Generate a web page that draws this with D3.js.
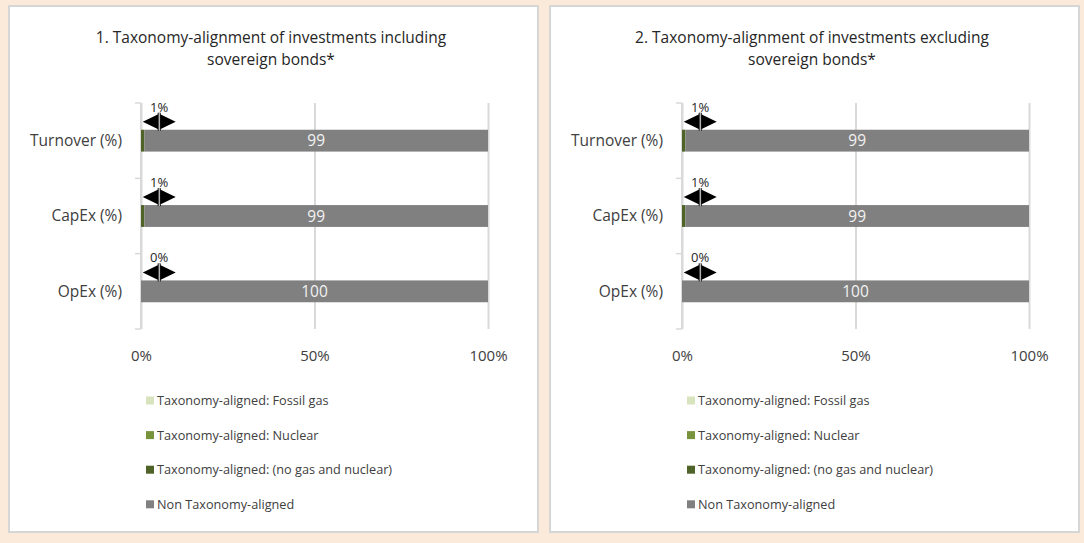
<!DOCTYPE html>
<html>
<head>
<meta charset="utf-8">
<script src="https://cdn.jsdelivr.net/npm/d3@7"></script>
<style>
  html, body { margin: 0; padding: 0; background: #fbe9da; }
  svg { display: block; font-family: "Open Sans", sans-serif; }
</style>
</head>
<body>
<div id="chart"></div>
<script>
// chart data
var categories = ["Turnover (%)", "CapEx (%)", "OpEx (%)"];
var seriesNames = ["Taxonomy-aligned: Fossil gas", "Taxonomy-aligned: Nuclear",
    "Taxonomy-aligned: (no gas and nuclear)", "Non Taxonomy-aligned"];
var seriesColors = ["#d7e4bd", "#77933c", "#4f6228", "#808080"];
var xTicks = [0, 50, 100];

var titles1 = ["1. Taxonomy-alignment of investments including", "sovereign bonds*"];
var incFossilGas = [0, 0, 0];
var incNuclear = [0, 0, 0];
var incAligned = [1, 1, 0];
var incNonAligned = [99, 99, 100];
var incArrowLabels = ["1%", "1%", "0%"];

var titles2 = ["2. Taxonomy-alignment of investments excluding", "sovereign bonds*"];
var excFossilGas = [0, 0, 0];
var excNuclear = [0, 0, 0];
var excAligned = [1, 1, 0];
var excNonAligned = [99, 99, 100];
var excArrowLabels = ["1%", "1%", "0%"];

var width = 1084, height = 543;

var svg = d3.select("#chart").append("svg")
    .attr("width", width)
    .attr("height", height);

svg.append("rect")
    .attr("width", width).attr("height", height)
    .attr("fill", "#fbe9da");

var keys = ["gas", "nuclear", "aligned", "non"];

var xScale = d3.scaleLinear().domain([0, 100]).range([141, 488]);
var yScale = d3.scaleBand().domain(categories).range([103, 329])
    .paddingInner(0.71).paddingOuter(0.355);

function drawPanel(offsetX, titleLines, gas, nuclear, aligned, non, arrowLabels) {
    var g = svg.append("g").attr("transform", "translate(" + offsetX + ",0)");

    // panel box
    g.append("rect")
        .attr("x", 9).attr("y", 6)
        .attr("width", 529).attr("height", 526)
        .attr("fill", "#fff")
        .attr("stroke", "#d6d6d6")
        .attr("stroke-width", 2);

    // title
    g.append("text")
        .attr("x", 271).attr("y", 43)
        .attr("text-anchor", "middle")
        .attr("font-size", 15.5)
        .attr("fill", "#262626")
        .selectAll("tspan")
        .data(titleLines)
        .enter().append("tspan")
        .attr("x", 271)
        .attr("dy", function(d, i) { return i === 0 ? 0 : 22; })
        .text(function(d) { return d; });

    // gridlines + x labels
    var xAxis = d3.axisBottom(xScale)
        .tickValues(xTicks)
        .tickSize(-(329 - 103))
        .tickFormat(function(d) { return d + "%"; });

    var ax = g.append("g")
        .attr("transform", "translate(0,329)")
        .call(xAxis);
    ax.select(".domain").remove();
    ax.selectAll("line")
        .attr("stroke", "#d9d9d9")
        .attr("stroke-width", 2);
    ax.selectAll("text")
        .attr("y", 21)
        .attr("font-size", 15)
        .attr("font-family", "'Open Sans', sans-serif")
        .attr("fill", "#404040");

    // y axis line and ticks at band edges
    var edges = [103].concat(categories.map(function(c, i) {
        return 103 + (i + 1) * yScale.step();
    }));
    g.append("line")
        .attr("x1", xScale(0)).attr("x2", xScale(0))
        .attr("y1", 103).attr("y2", 329)
        .attr("stroke", "#d9d9d9").attr("stroke-width", 2);
    g.selectAll(".ytick")
        .data(edges)
        .enter().append("line")
        .attr("class", "ytick")
        .attr("x1", xScale(0) - 6).attr("x2", xScale(0))
        .attr("y1", function(d) { return d; })
        .attr("y2", function(d) { return d; })
        .attr("stroke", "#d9d9d9").attr("stroke-width", 1.5);

    g.selectAll(".ylabel")
        .data(categories)
        .enter().append("text")
        .attr("class", "ylabel")
        .attr("x", 122)
        .attr("y", function(d) { return yScale(d) + yScale.bandwidth() / 2; })
        .attr("dy", "0.35em")
        .attr("text-anchor", "end")
        .attr("font-size", 15.5)
        .attr("fill", "#404040")
        .text(function(d) { return d; });

    // stacked bars
    var rows = categories.map(function(c, i) {
        return { cat: c, gas: gas[i], nuclear: nuclear[i], aligned: aligned[i], non: non[i] };
    });
    var stacked = d3.stack().keys(keys)(rows);

    var layers = g.selectAll(".layer")
        .data(stacked)
        .enter().append("g")
        .attr("class", "layer")
        .attr("fill", function(d, i) { return seriesColors[i]; });

    layers.selectAll("rect")
        .data(function(d) { return d; })
        .enter().append("rect")
        .attr("x", function(d) { return xScale(d[0]); })
        .attr("y", function(d) { return yScale(d.data.cat); })
        .attr("width", function(d) { return xScale(d[1]) - xScale(d[0]); })
        .attr("height", yScale.bandwidth());

    // value labels on the non-aligned part
    var nonLayer = stacked[3];
    g.selectAll(".vlabel")
        .data(nonLayer)
        .enter().append("text")
        .attr("class", "vlabel")
        .attr("x", function(d) { return (xScale(d[0]) + xScale(d[1])) / 2; })
        .attr("y", function(d) { return yScale(d.data.cat) + yScale.bandwidth() / 2; })
        .attr("dy", "0.36em")
        .attr("text-anchor", "middle")
        .attr("font-size", 15.5)
        .attr("fill", "#f2f2f2")
        .text(function(d) { return d[1] - d[0]; });

    // double arrows with aligned share
    var arrows = g.selectAll(".arrow")
        .data(categories)
        .enter().append("g")
        .attr("class", "arrow")
        .attr("transform", function(d) {
            return "translate(0," + (yScale(d) - 8) + ")";
        });

    var a0 = xScale(0.5), a1 = xScale(10), am = (a0 + a1) / 2;
    arrows.append("path")
        .attr("d", "M" + a0 + ",0L" + (am - 1) + ",-7.5L" + (am - 1) + ",7.5Z" +
                   "M" + a1 + ",0L" + (am + 1) + ",-7.5L" + (am + 1) + ",7.5Z")
        .attr("fill", "#000");
    arrows.append("line")
        .attr("x1", am).attr("x2", am)
        .attr("y1", -9).attr("y2", 9)
        .attr("stroke", "#000").attr("stroke-width", 3);
    arrows.append("line")
        .attr("x1", am).attr("x2", am)
        .attr("y1", -9).attr("y2", 9)
        .attr("stroke", "#fff").attr("stroke-width", 1);
    arrows.append("text")
        .attr("x", am)
        .attr("y", -10)
        .attr("text-anchor", "middle")
        .attr("font-size", 13)
        .attr("fill", "#262626")
        .text(function(d, i) { return arrowLabels[i]; });

    // legend
    var legend = g.selectAll(".legend")
        .data(seriesNames)
        .enter().append("g")
        .attr("class", "legend")
        .attr("transform", function(d, i) {
            return "translate(146," + (400.5 + i * 34.6) + ")";
        });
    legend.append("rect")
        .attr("x", 0).attr("y", -4)
        .attr("width", 8).attr("height", 8)
        .attr("fill", function(d, i) { return seriesColors[i]; });
    legend.append("text")
        .attr("x", 11)
        .attr("dy", "0.35em")
        .attr("font-size", 12.7)
        .attr("fill", "#404040")
        .text(function(d) { return d; });
}

drawPanel(0, titles1, incFossilGas, incNuclear, incAligned, incNonAligned, incArrowLabels);
drawPanel(541, titles2, excFossilGas, excNuclear, excAligned, excNonAligned, excArrowLabels);
</script>
</body>
</html>
